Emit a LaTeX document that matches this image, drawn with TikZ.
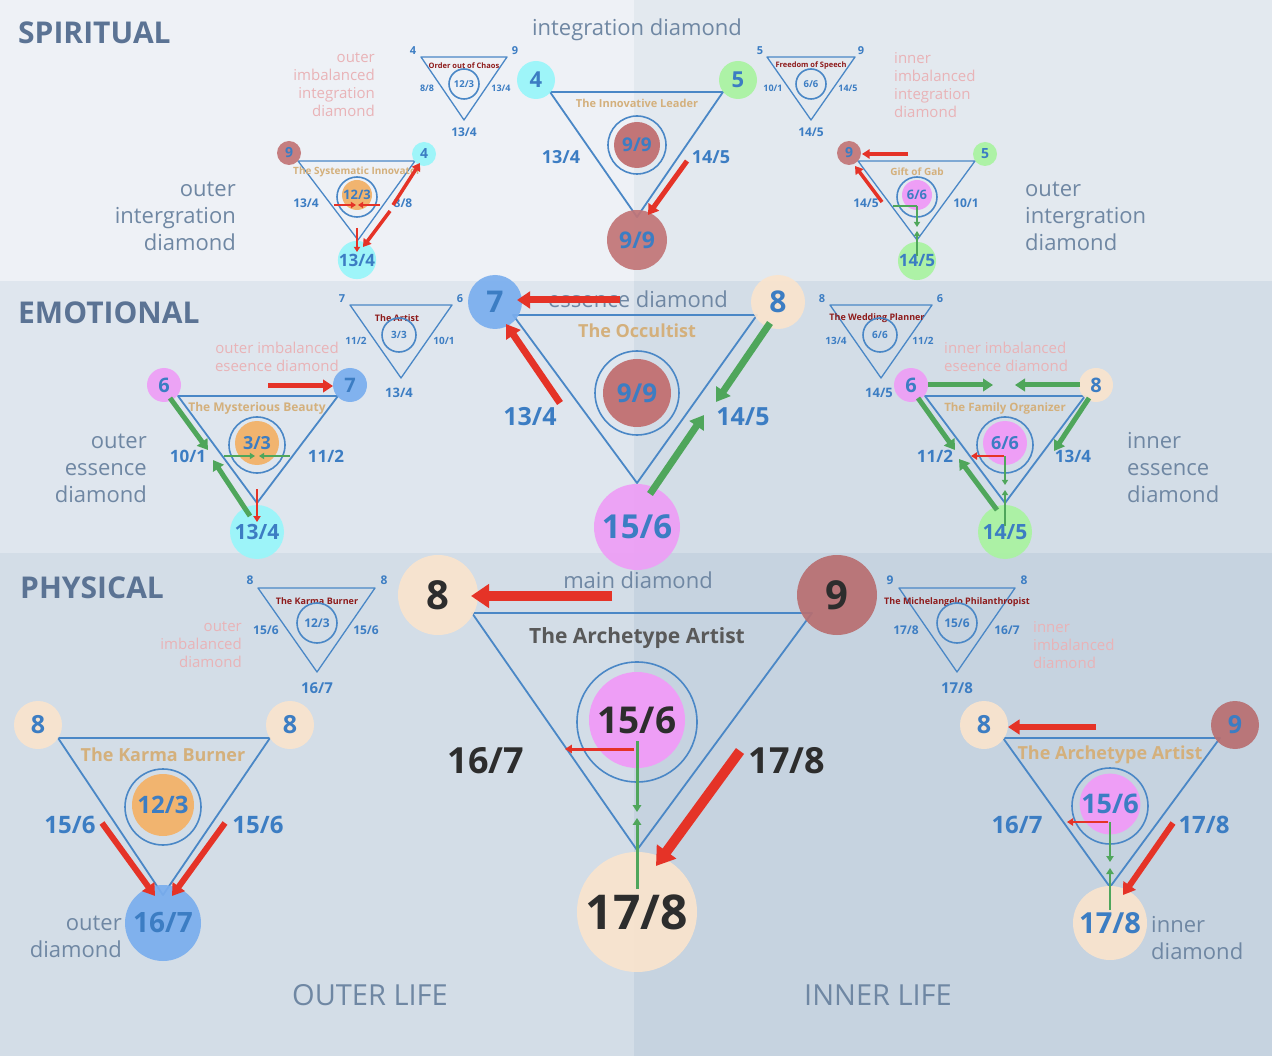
\documentclass[tikz,border=0pt]{standalone}
\usepackage{fontspec}
\setmainfont{Open Sans}
\usetikzlibrary{arrows.meta}
\definecolor{numblue}{HTML}{3C7DC3}
\definecolor{triblue}{HTML}{4A87C6}
\definecolor{tantxt}{HTML}{D4B07C}
\definecolor{darkred}{HTML}{8E1B1B}
\definecolor{pinklbl}{HTML}{E9B3B7}
\definecolor{graylbl}{HTML}{6F87A3}
\definecolor{hdrcol}{HTML}{5B7394}
\definecolor{ccyan}{HTML}{98F6FA}
\definecolor{cgreen}{HTML}{A9F3A0}
\definecolor{cred}{HTML}{C27577}
\definecolor{cblue}{HTML}{7AAEEE}
\definecolor{cpink}{HTML}{EE9EF6}
\definecolor{cpeach}{HTML}{FAE4CD}
\definecolor{corange}{HTML}{F1B46F}
\definecolor{arred}{HTML}{E53327}
\definecolor{argreen}{HTML}{4FA65B}
\definecolor{darktxt}{HTML}{2D2D2D}
\definecolor{bgSL}{HTML}{EEF1F6}
\definecolor{bgSR}{HTML}{E3E9EF}
\definecolor{bgEL}{HTML}{DFE6EE}
\definecolor{bgER}{HTML}{D3DDE7}
\definecolor{bgPL}{HTML}{D3DDE7}
\definecolor{bgPR}{HTML}{C6D3E0}
\newcommand\arw[4]{\coordinate (#1s) at (#3); \coordinate (#1e) at (#4); \draw[#2] (#1s) -- (#1e);}
\begin{document}
\begin{tikzpicture}[x=1pt,y=-1pt,
  n/.style={font=\bfseries\fontsize{#1}{#1}\selectfont, text=numblue, inner sep=0pt},
  dk/.style={text=darktxt},
  vc/.style={circle, inner sep=0pt, fill opacity=0.92, text opacity=1},
  ringc/.style={circle, draw=triblue, line width=1.6, inner sep=0pt},
  fillc/.style={circle, inner sep=0pt},
  tri/.style={draw=triblue, line width=1.8, line join=round},
  stri/.style={draw=triblue, line width=1.3, line join=round},
  ttl/.style={font=\bfseries\fontsize{#1}{#1}\selectfont, text=tantxt, inner sep=0pt},
  sttl/.style={font=\bfseries\fontsize{#1}{#1}\selectfont, text=darkred, inner sep=0pt},
  gl/.style={font=\fontsize{22}{27}\selectfont, text=graylbl, inner sep=0pt},
  pl/.style={font=\fontsize{15}{18}\selectfont, text=pinklbl, inner sep=0pt},
  hdr/.style={font=\bfseries\fontsize{30}{30}\selectfont, text=hdrcol, anchor=west, inner sep=0pt},
  ra/.style={draw=arred, line width=#1, -{Triangle[length=2pt 1.6, width=2pt 2.1]}},
  ga/.style={draw=argreen, line width=#1, -{Triangle[length=2pt 1.6, width=2pt 2.1]}},
  gline/.style={draw=argreen, line width=#1}
]
\useasboundingbox (0,0) rectangle (1272,1056);
% backgrounds
\fill[bgSL] (0,0) rectangle (634,281);
\fill[bgSR] (634,0) rectangle (1272,281);
\fill[bgEL] (0,281) rectangle (634,553);
\fill[bgER] (634,281) rectangle (1272,553);
\fill[bgPL] (0,553) rectangle (634,1056);
\fill[bgPR] (634,553) rectangle (1272,1056);

% headers and section labels
\node[hdr] (hS) at (18,33) {SPIRITUAL};
\node[hdr] (hE) at (18,313) {EMOTIONAL};
\node[hdr] (hP) at (20,588) {PHYSICAL};
\node[gl] (lInt) at (637,30) {integration diamond};
\node[gl] (lEss) at (638,299) {essence diamond};
\node[gl] (lMain) at (638,580) {main diamond};
\node[font=\fontsize{29}{29}\selectfont, text=graylbl, inner sep=0pt] (lOL) at (370,995) {OUTER LIFE};
\node[font=\fontsize{29}{29}\selectfont, text=graylbl, inner sep=0pt] (lIL) at (878,995) {INNER LIFE};
\node[gl, align=right, anchor=east] (lOI) at (236,216) {outer\\intergration\\diamond};
\node[gl, align=left, anchor=west] (lII) at (1025,216) {outer\\intergration\\diamond};
\node[gl, align=right, anchor=east] (lOE) at (147,468) {outer\\essence\\diamond};
\node[gl, align=left, anchor=west] (lIE) at (1127,468) {inner\\essence\\diamond};
\node[gl, align=right, anchor=east] (lOD) at (122,937) {outer\\diamond};
\node[gl, align=left, anchor=west] (lID) at (1151,938) {inner\\diamond};
\node[pl, align=right, anchor=east] (pOI) at (375,85) {outer\\imbalanced\\integration\\diamond};
\node[pl, align=left, anchor=west] (pII) at (894,85) {inner\\imbalanced\\integration\\diamond};
\node[pl, align=right, anchor=east] (pOE) at (339,357) {outer imbalanced\\eseence diamond};
\node[pl, align=left, anchor=west] (pIE) at (944,357) {inner imbalanced\\eseence diamond};
\node[pl, align=right, anchor=east] (pOP) at (242,645) {outer\\imbalanced\\diamond};
\node[pl, align=left, anchor=west] (pIP) at (1033,645) {inner\\imbalanced\\diamond};

% ================= SPIRITUAL =================
% small: Order out of Chaos
\coordinate (A1) at (421,57); \coordinate (A2) at (507,57); \coordinate (A3) at (464,120);
\draw[stri] (A1) -- (A2) -- (A3) -- cycle;
\node[n=11] (Ac1) at (413,51) {4};
\node[n=11] (Ac2) at (515,51) {9};
\node[sttl=7.5] (At) at (464,66) {Order out of Chaos};
\node[ringc, minimum size=30, n=9.5] (Ar) at (464,84) {12/3};
\node[n=9] (Al) at (427,88) {8/8};
\node[n=9] (Ar2) at (501,88) {13/4};
\node[n=12] (Ab) at (464,132) {13/4};

% small: Freedom of Speech
\coordinate (B1) at (767,57); \coordinate (B2) at (855,57); \coordinate (B3) at (811,120);
\draw[stri] (B1) -- (B2) -- (B3) -- cycle;
\node[n=11] (Bc1) at (760,51) {5};
\node[n=11] (Bc2) at (861,51) {9};
\node[sttl=7.5] (Bt) at (811,66) {Freedom of Speech};
\node[ringc, minimum size=30, n=9.5] (Br) at (811,84) {6/6};
\node[n=9] (Bl) at (773,88) {10/1};
\node[n=9] (Br2) at (848,88) {14/5};
\node[n=12] (Bb) at (811,132) {14/5};

% center: The Innovative Leader
\coordinate (SC1) at (550,92); \coordinate (SC2) at (723,92); \coordinate (SC3) at (637,217);
\draw[tri] (SC1) -- (SC2) -- (SC3) -- cycle;
\node[ttl=11] (SCt) at (637,103) {The Innovative Leader};
\node[ringc, minimum size=58] (SCr) at (637,145) {};
\node[fillc, fill=cred, minimum size=46, n=19] (SCi) at (637,145) {9/9};
\node[vc, fill=ccyan, minimum size=38, n=22] (SCv1) at (536,80) {4};
\node[vc, fill=cgreen, minimum size=38, n=22] (SCv2) at (738,80) {5};
\node[vc, fill=cred, minimum size=60, n=23] (SCv3) at (637,240) {9/9};
\node[n=18] (SCl1) at (561,157) {13/4};
\node[n=18] (SCl2) at (711,157) {14/5};
\arw{sca}{ra=5}{687,161}{648,215}

% left: The Systematic Innovator
\coordinate (SL1) at (298,161); \coordinate (SL2) at (415,161); \coordinate (SL3) at (358,240);
\draw[stri] (SL1) -- (SL2) -- (SL3) -- cycle;
\node[ttl=10] (SLt) at (357,172) {The Systematic Innovator};
\node[ringc, minimum size=40] (SLr) at (357,197) {};
\node[fillc, fill=corange, minimum size=30, n=13] (SLi) at (357,195) {12/3};
\node[vc, fill=cred, minimum size=24, n=14] (SLv1) at (289,153) {9};
\node[vc, fill=ccyan, minimum size=24, n=14] (SLv2) at (424,154) {4};
\node[vc, fill=ccyan, minimum size=38, n=17] (SLv3) at (357,260) {13/4};
\node[n=12] (SLl1) at (306,203) {13/4};
\node[n=12] (SLl2) at (403,203) {8/8};
\arw{sla}{ra=2}{334,205}{356,205}
\arw{slb}{ra=2}{380,205}{358,205}
\arw{slc}{ra=2}{357,228}{357,252}
\arw{sld}{ra=3.5}{393,205}{420,163}
\arw{sle}{ra=3.5}{390,211}{363,247}

% right: Gift of Gab
\coordinate (SR1) at (858,161); \coordinate (SR2) at (975,161); \coordinate (SR3) at (917,240);
\draw[stri] (SR1) -- (SR2) -- (SR3) -- cycle;
\node[ttl=10] (SRt) at (917,172) {Gift of Gab};
\node[ringc, minimum size=40] (SRr) at (917,197) {};
\node[fillc, fill=cpink, minimum size=30, n=13] (SRi) at (917,195) {6/6};
\node[vc, fill=cred, minimum size=24, n=14] (SRv1) at (849,153) {9};
\node[vc, fill=cgreen, minimum size=24, n=14] (SRv2) at (985,154) {5};
\node[vc, fill=cgreen, minimum size=38, n=17] (SRv3) at (917,261) {14/5};
\node[n=12] (SRl1) at (866,203) {14/5};
\node[n=12] (SRl2) at (966,203) {10/1};
\arw{sra}{ra=3.5}{908,154}{862,154}
\arw{srb}{ra=3.5}{882,202}{855,166}
\coordinate (srg1) at (893,206); \coordinate (srg2) at (917,206);
\draw[gline=2] (srg1) -- (srg2);
\arw{src}{ga=2}{917,206}{917,227}
\arw{srd}{ga=2}{917,256}{917,231}

% ================= EMOTIONAL =================
% small: The Artist
\coordinate (C1) at (350,305); \coordinate (C2) at (452,305); \coordinate (C3) at (401,378);
\draw[stri] (C1) -- (C2) -- (C3) -- cycle;
\node[n=11] (Cc1) at (342,299) {7};
\node[n=11] (Cc2) at (460,299) {6};
\node[sttl=9] (Ct) at (397,318) {The Artist};
\node[ringc, minimum size=34, n=10] (Cr) at (399,335) {3/3};
\node[n=10] (Cl) at (356,341) {11/2};
\node[n=10] (Cr2) at (444,341) {10/1};
\node[n=13] (Cb) at (399,393) {13/4};

% small: The Wedding Planner
\coordinate (D1) at (830,305); \coordinate (D2) at (932,305); \coordinate (D3) at (881,378);
\draw[stri] (D1) -- (D2) -- (D3) -- cycle;
\node[n=11] (Dc1) at (822,299) {8};
\node[n=11] (Dc2) at (940,299) {6};
\node[sttl=9] (Dt) at (877,318) {The Wedding Planner};
\node[ringc, minimum size=34, n=10] (Dr) at (880,335) {6/6};
\node[n=10] (Dl) at (836,341) {13/4};
\node[n=10] (Dr2) at (923,341) {11/2};
\node[n=13] (Db) at (879,393) {14/5};

% center: The Occultist
\coordinate (EC1) at (513,315); \coordinate (EC2) at (757,315); \coordinate (EC3) at (637,483);
\draw[tri] (EC1) -- (EC2) -- (EC3) -- cycle;
\node[ttl=18] (ECt) at (637,331) {The Occultist};
\node[ringc, minimum size=84] (ECr) at (637,393) {};
\node[fillc, fill=cred, minimum size=68, n=26] (ECi) at (637,393) {9/9};
\node[vc, fill=cblue, minimum size=54, n=30] (ECv1) at (495,302) {7};
\node[vc, fill=cpeach, minimum size=54, n=30] (ECv2) at (778,302) {8};
\node[vc, fill=cpink, minimum size=86, n=33] (ECv3) at (637,527) {15/6};
\node[n=25] (ECl1) at (530,417) {13/4};
\node[n=25] (ECl2) at (743,417) {14/5};
\arw{eca}{ra=7}{620,300}{517,300}
\arw{ecb}{ra=7}{560,403}{506,324}
\arw{ecc}{ga=7}{770,323}{716,402}
\arw{ecd}{ga=7}{650,494}{704,415}

% left: The Mysterious Beauty
\coordinate (EL1) at (178,396); \coordinate (EL2) at (338,396); \coordinate (EL3) at (257,503);
\draw[tri] (EL1) -- (EL2) -- (EL3) -- cycle;
\node[ttl=12] (ELt) at (257,408) {The Mysterious Beauty};
\node[ringc, minimum size=56] (ELr) at (257,445) {};
\node[fillc, fill=corange, minimum size=44, n=18] (ELi) at (257,443) {3/3};
\node[vc, fill=cpink, minimum size=34, n=20] (ELv1) at (164,385) {6};
\node[vc, fill=cblue, minimum size=34, n=20] (ELv2) at (350,385) {7};
\node[vc, fill=ccyan, minimum size=54, n=21] (ELv3) at (257,532) {13/4};
\node[n=17] (ELl1) at (188,456) {10/1};
\node[n=17] (ELl2) at (326,456) {11/2};
\arw{ela}{ra=5}{268,386}{333,386}
\arw{elb}{ga=5}{170,398}{208,450}
\arw{elc}{ga=5}{250,516}{213,460}
\arw{eld}{ga=2}{224,456}{255,456}
\arw{ele}{ga=2}{290,456}{259,456}
\arw{elf}{ra=2.5}{257,489}{257,522}

% right: The Family Organizer
\coordinate (ER1) at (925,396); \coordinate (ER2) at (1085,396); \coordinate (ER3) at (1005,503);
\draw[tri] (ER1) -- (ER2) -- (ER3) -- cycle;
\node[ttl=11.5] (ERt) at (1005,409) {The Family Organizer};
\node[ringc, minimum size=56] (ERr) at (1005,445) {};
\node[fillc, fill=cpink, minimum size=44, n=18] (ERi) at (1005,443) {6/6};
\node[vc, fill=cpink, minimum size=34, n=20] (ERv1) at (911,385) {6};
\node[vc, fill=cpeach, minimum size=34, n=20] (ERv2) at (1096,385) {8};
\node[vc, fill=cgreen, minimum size=54, n=21] (ERv3) at (1005,532) {14/5};
\node[n=17] (ERl1) at (935,456) {11/2};
\node[n=17] (ERl2) at (1073,456) {13/4};
\arw{era}{ga=5}{928,385}{993,385}
\arw{erb}{ga=5}{1080,385}{1015,385}
\arw{erc}{ga=5}{918,398}{955,450}
\arw{erd}{ga=5}{997,510}{959,459}
\arw{ere}{ga=5}{1089,398}{1054,451}
\arw{erf}{ra=2.5}{1004,456}{971,456}
\arw{erg}{ga=2}{1005,456}{1005,485}
\arw{erh}{ga=2}{1005,526}{1005,490}

% ================= PHYSICAL =================
% small: The Karma Burner
\coordinate (E1) at (258,588); \coordinate (E2) at (375,588); \coordinate (E3) at (317,672);
\draw[stri] (E1) -- (E2) -- (E3) -- cycle;
\node[n=12] (Ec1) at (250,580) {8};
\node[n=12] (Ec2) at (384,580) {8};
\node[sttl=9] (Et) at (317,601) {The Karma Burner};
\node[ringc, minimum size=40, n=12] (Er) at (317,623) {12/3};
\node[n=12] (El) at (266,630) {15/6};
\node[n=12] (Er2) at (366,630) {15/6};
\node[n=15] (Eb) at (317,688) {16/7};

% small: The Michelangelo Philanthropist
\coordinate (F1) at (899,588); \coordinate (F2) at (1015,588); \coordinate (F3) at (957,672);
\draw[stri] (F1) -- (F2) -- (F3) -- cycle;
\node[n=12] (Fc1) at (890,580) {9};
\node[n=12] (Fc2) at (1024,580) {8};
\node[sttl=9] (Ft) at (957,602) {The Michelangelo Philanthropist};
\node[ringc, minimum size=40, n=12] (Fr) at (957,623) {15/6};
\node[n=12] (Fl) at (906,630) {17/8};
\node[n=12] (Fr2) at (1007,630) {16/7};
\node[n=15] (Fb) at (957,688) {17/8};

% center: The Archetype Artist
\coordinate (PC1) at (472,613); \coordinate (PC2) at (812,613); \coordinate (PC3) at (637,850);
\draw[tri] (PC1) -- (PC2) -- (PC3) -- cycle;
\node[font=\bfseries\fontsize{21}{21}\selectfont, text=black!65, inner sep=0pt] (PCt) at (637,638) {The Archetype Artist};
\node[ringc, minimum size=120] (PCr) at (637,722) {};
\node[fillc, fill=cpink, minimum size=96, n=37, dk] (PCi) at (637,720) {15/6};
\node[vc, fill=cpeach, minimum size=80, n=40, dk] (PCv1) at (438,595) {8};
\node[vc, fill=cred!95!black, minimum size=80, n=40, dk] (PCv2) at (837,595) {9};
\node[vc, fill=cpeach, minimum size=120, n=48, dk] (PCv3) at (637,912) {17/8};
\node[n=36, dk] (PCl1) at (486,761) {16/7};
\node[n=36, dk] (PCl2) at (787,761) {17/8};
\arw{pca}{ra=10}{612,596}{471,596}
\arw{pcb}{ra=10}{740,751}{656,866}
\arw{pcc}{ra=3}{634,749}{565,749}
\arw{pcd}{ga=3}{637,741}{637,812}
\arw{pce}{ga=3}{637,889}{637,818}

% left: The Karma Burner
\coordinate (PL1) at (58,738); \coordinate (PL2) at (270,738); \coordinate (PL3) at (163,895);
\draw[tri] (PL1) -- (PL2) -- (PL3) -- cycle;
\node[ttl=18] (PLt) at (163,755) {The Karma Burner};
\node[ringc, minimum size=76] (PLr) at (163,807) {};
\node[fillc, fill=corange, minimum size=62, n=24] (PLi) at (163,805) {12/3};
\node[vc, fill=cpeach, minimum size=48, n=25] (PLv1) at (38,725) {8};
\node[vc, fill=cpeach, minimum size=48, n=25] (PLv2) at (290,725) {8};
\node[vc, fill=cblue, minimum size=76, n=28] (PLv3) at (163,923) {16/7};
\node[n=24] (PLl1) at (70,825) {15/6};
\node[n=24] (PLl2) at (258,825) {15/6};
\arw{pla}{ra=6}{102,823}{155,896}
\arw{plb}{ra=6}{225,823}{172,896}

% right: The Archetype Artist
\coordinate (PR1) at (1003,738); \coordinate (PR2) at (1220,738); \coordinate (PR3) at (1110,887);
\draw[tri] (PR1) -- (PR2) -- (PR3) -- cycle;
\node[ttl=18] (PRt) at (1110,755) {The Archetype Artist};
\node[ringc, minimum size=76] (PRr) at (1110,806) {};
\node[fillc, fill=cpink, minimum size=60, n=27] (PRi) at (1110,804) {15/6};
\node[vc, fill=cpeach, minimum size=48, n=25] (PRv1) at (984,725) {8};
\node[vc, fill=cred!95!black, minimum size=48, n=25] (PRv2) at (1235,725) {9};
\node[vc, fill=cpeach, minimum size=74, n=29] (PRv3) at (1110,923) {17/8};
\node[n=24] (PRl1) at (1017,825) {16/7};
\node[n=24] (PRl2) at (1204,825) {17/8};
\arw{pra}{ra=6}{1096,727}{1008,727}
\arw{prb}{ra=6}{1173,823}{1123,895}
\arw{prc}{ra=2.5}{1108,822}{1067,822}
\arw{prd}{ga=2.5}{1110,822}{1110,862}
\arw{pre}{ga=2.5}{1110,910}{1110,868}
\end{tikzpicture}
\end{document}
